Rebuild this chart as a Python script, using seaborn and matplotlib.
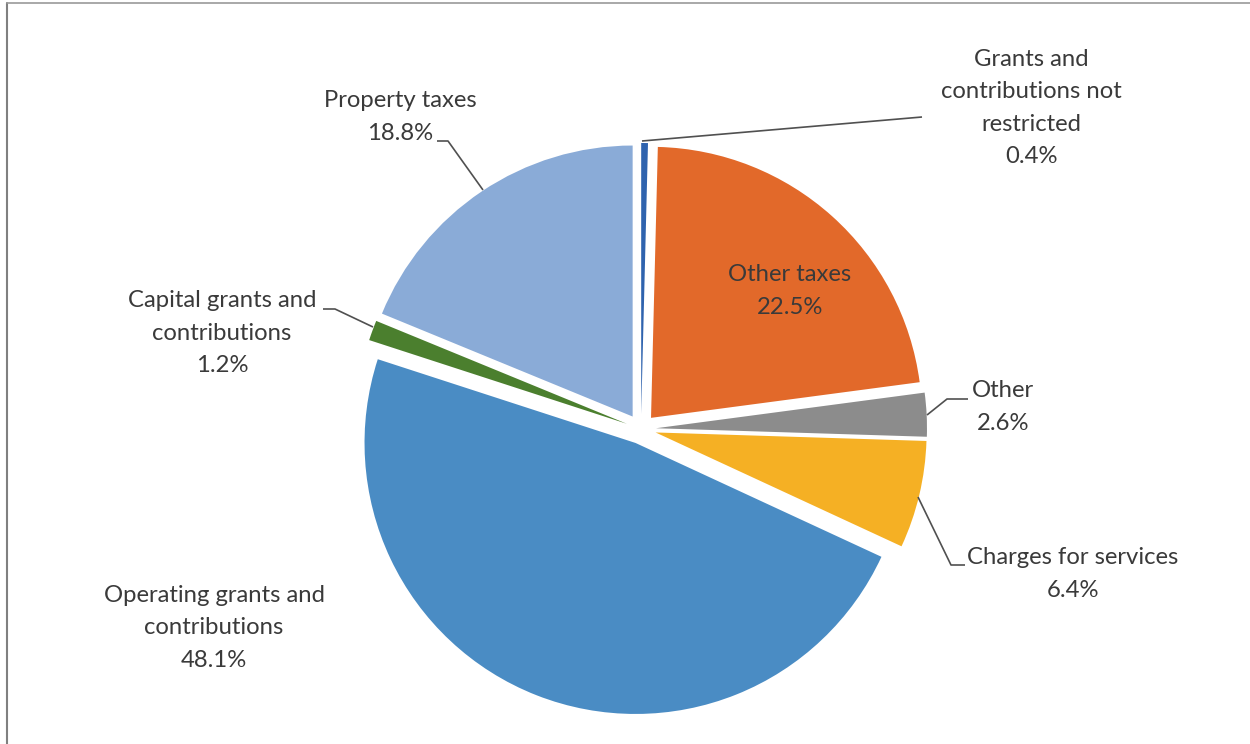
import matplotlib
matplotlib.use("Agg")
import matplotlib.pyplot as plt
import seaborn as sns

# Revenue sources, clockwise from the top
categories = [
    "Grants and\ncontributions not\nrestricted",
    "Other taxes",
    "Other",
    "Charges for services",
    "Operating grants and\ncontributions",
    "Capital grants and\ncontributions",
    "Property taxes",
]
shares = [0.4, 22.5, 2.6, 6.4, 48.1, 1.2, 18.8]
colors = ["#2F63AE", "#E2692A", "#8C8C8C", "#F5B024", "#4A8CC4", "#4B7F2E", "#8AABD7"]

sns.set_theme(style="white")
plt.rcParams["font.family"] = ["Lato", "DejaVu Sans"]

W, H = 1250, 744
fig = plt.figure(figsize=(W / 100, H / 100), dpi=100)
ax = fig.add_axes([0, 0, 1, 1])

def Y(y):
    return H - y

center = (641, Y(429))
radius = 271
# explode offsets are in data units (pixels here)
ax.pie(
    shares,
    colors=colors,
    startangle=90,
    counterclock=False,
    explode=[15] * len(shares),
    radius=radius,
    center=center,
    wedgeprops=dict(linewidth=0),
    frame=True,
)
ax.set_xlim(0, W)
ax.set_ylim(0, H)
ax.set_aspect("equal")
ax.axis("off")

txt = "#3a3a3a"
fs = 17.2
labels = [f"{c}\n{s:.1f}%" for c, s in zip(categories, shares)]
label_pos = [(1031, 108), (790, 291), (1003, 407), (1073, 574),
             (214, 628), (222, 333), (400, 117)]
for lab, (x, y) in zip(labels, label_pos):
    ax.text(x, Y(y), lab, ha="center", va="center", fontsize=fs,
            color=txt, linespacing=1.65)

# Leader lines
lc = "#505050"
leaders = [
    [(642, 141), (922, 117)],
    [(927, 415), (947, 399), (968, 399)],
    [(918, 497), (951, 565), (965, 565)],
    [(373, 327), (335, 309), (323, 309)],
    [(483, 190), (448, 141), (437, 141)],
]
for pts in leaders:
    ax.plot([p[0] for p in pts], [Y(p[1]) for p in pts], color=lc, lw=1.2,
            solid_capstyle="butt")

# Frame edges on the left and top
ax.plot([7, 7], [Y(3), Y(744)], color="#808080", lw=1.5)
ax.plot([7, 1250], [Y(3), Y(3)], color="#9a9a9a", lw=1.2)

fig.savefig("out.png", dpi=100, facecolor="white")
